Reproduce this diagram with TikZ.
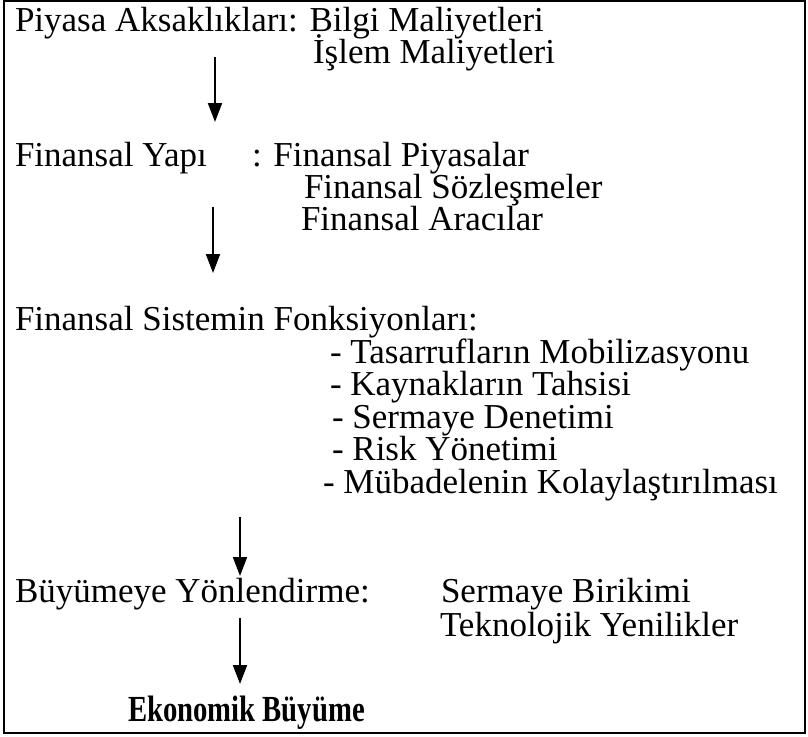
\documentclass[tikz,border=0pt]{standalone}
\usepackage{fontspec}
\setmainfont{Liberation Serif}
\usetikzlibrary{arrows.meta}
\begin{document}
\begin{tikzpicture}[x=1pt,y=-1pt,
  txt/.style={anchor=base west,inner sep=0pt,outer sep=0pt,font=\fontsize{35}{38}\selectfont},
  flow/.style={line width=2pt,-{Triangle[width=14pt,length=19pt]}}]
\useasboundingbox (0,0) rectangle (808,736);
\draw[line width=2.2pt] (4,1) rectangle (805,733);
\node[txt] (l1) at (15,31) {Piyasa Aksaklıkları: Bilgi Maliyetleri};
\node[txt] (l2) at (313,63) {İşlem Maliyetleri};
\node[txt] (l3a) at (15,166) {Finansal Yapı};
\node[txt] (l3b) at (252,166) {: Finansal Piyasalar};
\node[txt] (l4) at (304,198) {Finansal Sözleşmeler};
\node[txt] (l5) at (301,230) {Finansal Aracılar};
\node[txt] (l6) at (15,330) {Finansal Sistemin Fonksiyonları:};
\node[txt] (l7) at (330,363) {- Tasarrufların Mobilizasyonu};
\node[txt] (l8) at (330,395) {- Kaynakların Tahsisi};
\node[txt] (l9) at (332,428) {- Sermaye Denetimi};
\node[txt] (l10) at (332,460) {- Risk Yönetimi};
\node[txt] (l11) at (323,493) {- Mübadelenin Kolaylaştırılması};
\node[txt] (l12a) at (15,602) {Büyümeye Yönlendirme:};
\node[txt] (l12b) at (441,602) {Sermaye Birikimi};
\node[txt] (l13) at (440,636) {Teknolojik Yenilikler};
\node[txt,font=\fontsize{35}{38}\selectfont\bfseries,xscale=0.82,yscale=1.05] (l14) at (128,721) {Ekonomik Büyüme};
\coordinate (a1s) at (215,57); \coordinate (a1e) at (215,122);
\coordinate (a2s) at (213,207); \coordinate (a2e) at (213,273);
\coordinate (a3s) at (240,517); \coordinate (a3e) at (240,576);
\coordinate (a4s) at (240,618); \coordinate (a4e) at (240,684);
\draw[flow] (a1s) -- (a1e);
\draw[flow] (a2s) -- (a2e);
\draw[flow] (a3s) -- (a3e);
\draw[flow] (a4s) -- (a4e);
\end{tikzpicture}
\end{document}
